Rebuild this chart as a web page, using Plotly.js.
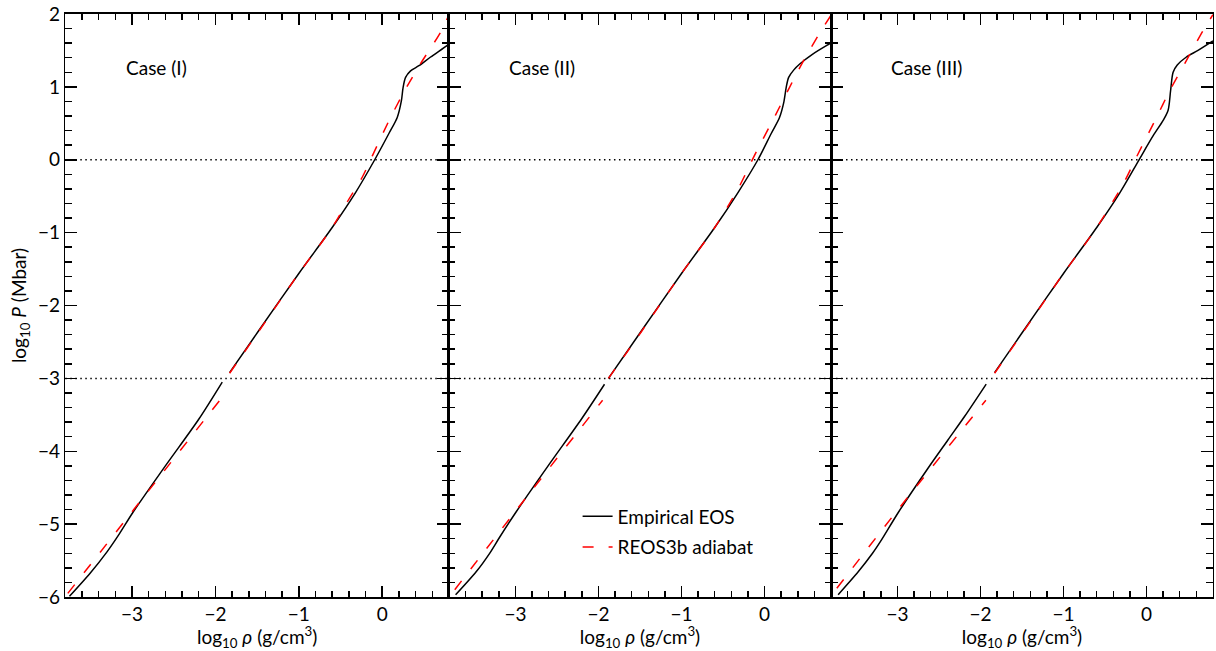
<!DOCTYPE html>
<html>
<head>
<meta charset="utf-8">
<script src="https://cdn.plot.ly/plotly-3.0.1.min.js"></script>
<style>html,body{margin:0;padding:0;background:#fff;}#chart{width:1216px;height:651px;}</style>
</head>
<body>
<div id="chart"></div>
<script>
// ---- Data (log10 rho [g/cm3], log10 P [Mbar]) ----
// null separates the lower (P < 1 kbar) and upper branches of each curve
const caseNames = ["Case (I)", "Case (II)", "Case (III)"];

// Case (I)
const rhoEmpI  = [-3.75, -3.50, -3.30, -3.15, -2.99, -2.60, -2.20, -1.918, null,
                  -1.83, -1.49, -1.00, -0.60, -0.32, -0.09, 0.08, 0.18, 0.23, 0.25, 0.28, 0.34, 0.44, 0.58, 0.78, 0.81];
const pEmpI    = [-5.99, -5.67, -5.38, -5.13, -4.84, -4.20, -3.56, -3.05, null,
                  -2.92, -2.36, -1.56, -0.93, -0.45, 0.00, 0.36, 0.58, 0.81, 0.99, 1.13, 1.22, 1.29, 1.41, 1.57, 1.60];
const rhoReosI = [-3.77, -3.00, -1.934, null,
                  -1.83, -1.49, -1.00, -0.60, -0.42, -0.24, -0.12, 0.10, 0.28, 0.46, 0.70, 0.80];
const pReosI   = [-5.95, -4.83, -3.28, null,
                  -2.93, -2.37, -1.56, -0.93, -0.58, -0.24, 0.05, 0.58, 0.97, 1.32, 1.75, 1.99];

// Case (II)
const rhoEmpII  = [-3.72, -3.47, -3.31, -3.19, -2.99, -2.60, -2.20, -1.927, null,
                   -1.88, -1.49, -1.00, -0.60, -0.32, -0.08, 0.08, 0.18, 0.23, 0.26, 0.29, 0.35, 0.43, 0.58, 0.78, 0.81];
const pEmpII    = [-5.97, -5.65, -5.40, -5.18, -4.83, -4.19, -3.55, -3.08, null,
                   -3.00, -2.36, -1.56, -0.93, -0.45, 0.00, 0.36, 0.58, 0.78, 0.99, 1.13, 1.23, 1.32, 1.45, 1.59, 1.61];
const rhoReosII = [-3.73, -2.97, -1.95, null,
                   -1.88, -1.49, -1.00, -0.60, -0.31, -0.13, 0.13, 0.29, 0.47, 0.67, 0.81];
const pReosII   = [-5.90, -4.78, -3.30, null,
                   -3.00, -2.37, -1.56, -0.93, -0.38, 0.04, 0.61, 0.97, 1.36, 1.75, 2.00];

// Case (III)
const rhoEmpIII  = [-3.714, -3.47, -3.30, -3.194, -2.99, -2.632, -2.392, -2.19, -1.931, null,
                    -1.83, -1.49, -1.00, -0.60, -0.32, -0.09, 0.08, 0.20, 0.26, 0.29, 0.32, 0.37, 0.48, 0.62, 0.80];
const pEmpIII    = [-5.968, -5.65, -5.40, -5.22, -4.84, -4.233, -3.845, -3.52, -3.078, null,
                    -2.92, -2.36, -1.56, -0.93, -0.45, 0.00, 0.33, 0.54, 0.68, 0.95, 1.20, 1.30, 1.41, 1.50, 1.63];
const rhoReosIII = [-3.73, -3.00, -1.935, null,
                    -1.83, -1.49, -1.00, -0.60, -0.28, -0.12, 0.12, 0.28, 0.46, 0.68, 0.80];
const pReosIII   = [-5.88, -4.81, -3.30, null,
                    -2.93, -2.37, -1.56, -0.93, -0.33, 0.04, 0.58, 0.95, 1.32, 1.77, 1.99];

const refLevels = [0, -3];           // dotted reference pressures
const seriesNames = ["Empirical EOS", "REOS3b adiabat"];

// ---- Build figure ----
const FONT = "Lato, 'Open Sans', sans-serif";
const FS = 19;
const empSets  = [[rhoEmpI, pEmpI], [rhoEmpII, pEmpII], [rhoEmpIII, pEmpIII]];
const reosSets = [[rhoReosI, pReosI], [rhoReosII, pReosII], [rhoReosIII, pReosIII]];
const axSuffix = ["", "2", "3"];

const traces = [];
for (let i = 0; i < 3; i++) {
  const xa = "x" + axSuffix[i], ya = "y" + axSuffix[i];
  traces.push({
    x: empSets[i][0], y: empSets[i][1], xaxis: xa, yaxis: ya,
    type: "scatter", mode: "lines", name: seriesNames[0],
    line: {color: "#000", width: 1.5, shape: "spline", smoothing: 0.8},
    connectgaps: false, showlegend: i === 1, legendgroup: "emp"
  });
  traces.push({
    x: reosSets[i][0], y: reosSets[i][1], xaxis: xa, yaxis: ya,
    type: "scatter", mode: "lines", name: seriesNames[1],
    line: {color: "#ff0000", width: 1.5, dash: "11px,15px", shape: "spline", smoothing: 0.8},
    connectgaps: false, showlegend: i === 1, legendgroup: "reos"
  });
}

const xDomains = [[0.0537, 0.3692], [0.3692, 0.6834], [0.6834, 0.9975]];
const yDomain = [0.0829, 0.9785];

function xAxis(i) {
  return {
    domain: xDomains[i], range: [-3.8, 0.8], anchor: "y" + axSuffix[i],
    showline: true, linecolor: "#000", linewidth: 1.5, mirror: "allticks",
    ticks: "inside", ticklen: 11, tickwidth: 1.5, tickcolor: "#000",
    tickmode: "linear", tick0: 0, dtick: 1,
    minor: {ticks: "inside", ticklen: 6, tickwidth: 1.5, tickcolor: "#000", dtick: 0.2, tick0: 0, showgrid: false},
    showgrid: false, zeroline: false,
    tickfont: {family: FONT, size: FS, color: "#000"},
    title: {text: "log<sub>10</sub> <i>ρ</i> (g/cm<sup>3</sup>)", font: {family: FONT, size: FS, color: "#000"}, standoff: 0}
  };
}
function yAxis(i) {
  const ax = {
    domain: yDomain, range: [-6, 2], anchor: "x" + axSuffix[i],
    showline: true, linecolor: "#000", linewidth: 1.5, mirror: "allticks",
    ticks: "inside", ticklen: 12, tickwidth: 1.5, tickcolor: "#000",
    tickmode: "linear", tick0: 0, dtick: 1,
    minor: {ticks: "inside", ticklen: 6.5, tickwidth: 1.5, tickcolor: "#000", dtick: 0.2, tick0: 0, showgrid: false},
    showgrid: false, zeroline: false,
    showticklabels: i === 0,
    tickfont: {family: FONT, size: FS, color: "#000"}
  };
  if (i === 0) ax.title = {text: "log<sub>10</sub> <i>P</i> (Mbar)", font: {family: FONT, size: FS, color: "#000"}, standoff: 6};
  return ax;
}

const shapes = [];
const annotations = [];
for (let i = 0; i < 3; i++) {
  refLevels.forEach(lv => shapes.push({
    type: "line", xref: "x" + axSuffix[i] + " domain", yref: "y" + axSuffix[i],
    x0: 0, x1: 1, y0: lv, y1: lv,
    line: {color: "#000", width: 1.5, dash: "1.5px,3.5px"}, layer: "below"
  }));
  annotations.push({
    text: caseNames[i], xref: "x" + axSuffix[i] + " domain", yref: "y" + axSuffix[i],
    x: 0.152, y: 1.27, xanchor: "left", yanchor: "middle", showarrow: false,
    font: {family: FONT, size: FS, color: "#000"}
  });
}

const layout = {
  width: 1216, height: 651,
  margin: {l: 0, r: 0, t: 0, b: 0},
  paper_bgcolor: "#fff", plot_bgcolor: "#fff",
  font: {family: FONT, color: "#000"},
  xaxis: xAxis(0), xaxis2: xAxis(1), xaxis3: xAxis(2),
  yaxis: yAxis(0), yaxis2: yAxis(1), yaxis3: yAxis(2),
  shapes: shapes, annotations: annotations,
  showlegend: true,
  legend: {x: 0.475, y: 0.236, xanchor: "left", yanchor: "top", bgcolor: "rgba(0,0,0,0)",
           font: {family: FONT, size: FS, color: "#000"}, tracegroupgap: 3}
};

Plotly.newPlot("chart", traces, layout, {displayModeBar: false, staticPlot: true});
</script>
</body>
</html>
